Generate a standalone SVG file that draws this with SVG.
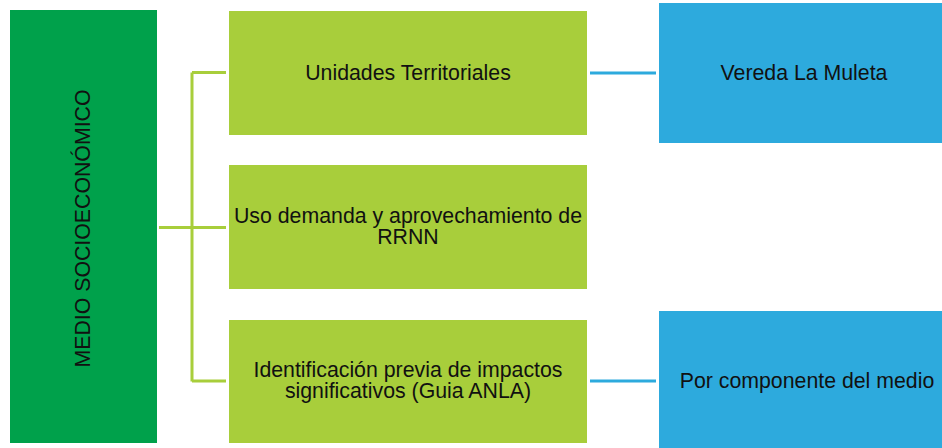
<svg xmlns="http://www.w3.org/2000/svg" width="942" height="448" viewBox="0 0 942 448">
<style>
.t{font-family:"Liberation Sans",Arial,sans-serif;font-size:21.3px;fill:#111;text-anchor:middle}
.dg{fill:#00A14B}
.lg{fill:#A8CE3B}
.bl{fill:#2DAADD}
.cg{stroke:#A8CE3B;stroke-width:3;fill:none}
.cb{stroke:#2DAADD;stroke-width:3;fill:none}
</style>
<rect width="942" height="448" fill="#fff"/>
<g id="connectors">
<path class="cg" d="M159 227.5H226M192 72.5V381.5M192 72.5H226M192 381H226"/>
<path class="cb" d="M590 73H656M590 381H656"/>
</g>
<g id="medio">
<rect class="dg" x="10" y="10" width="147" height="433"/>
<text class="t" transform="translate(90 228.5) rotate(-90)">MEDIO SOCIOECONÓMICO</text>
</g>
<g id="unidades">
<rect class="lg" x="229" y="11" width="358" height="124"/>
<text class="t" x="408" y="79.5">Unidades Territoriales</text>
</g>
<g id="uso">
<rect class="lg" x="229" y="165" width="358" height="124"/>
<text class="t" x="408" y="222.7">Uso demanda y aprovechamiento de</text>
<text class="t" x="408" y="244.3">RRNN</text>
</g>
<g id="identificacion">
<rect class="lg" x="229" y="320" width="358" height="123"/>
<text class="t" x="408" y="376.7">Identificación previa de impactos</text>
<text class="t" x="408" y="398.3">significativos (Guia ANLA)</text>
</g>
<g id="vereda">
<rect class="bl" x="659" y="3" width="283" height="140"/>
<text class="t" x="804" y="80">Vereda La Muleta</text>
</g>
<g id="componente">
<rect class="bl" x="659" y="311" width="283" height="137"/>
<text class="t" x="807" y="387.7">Por componente del medio</text>
</g>
</svg>
